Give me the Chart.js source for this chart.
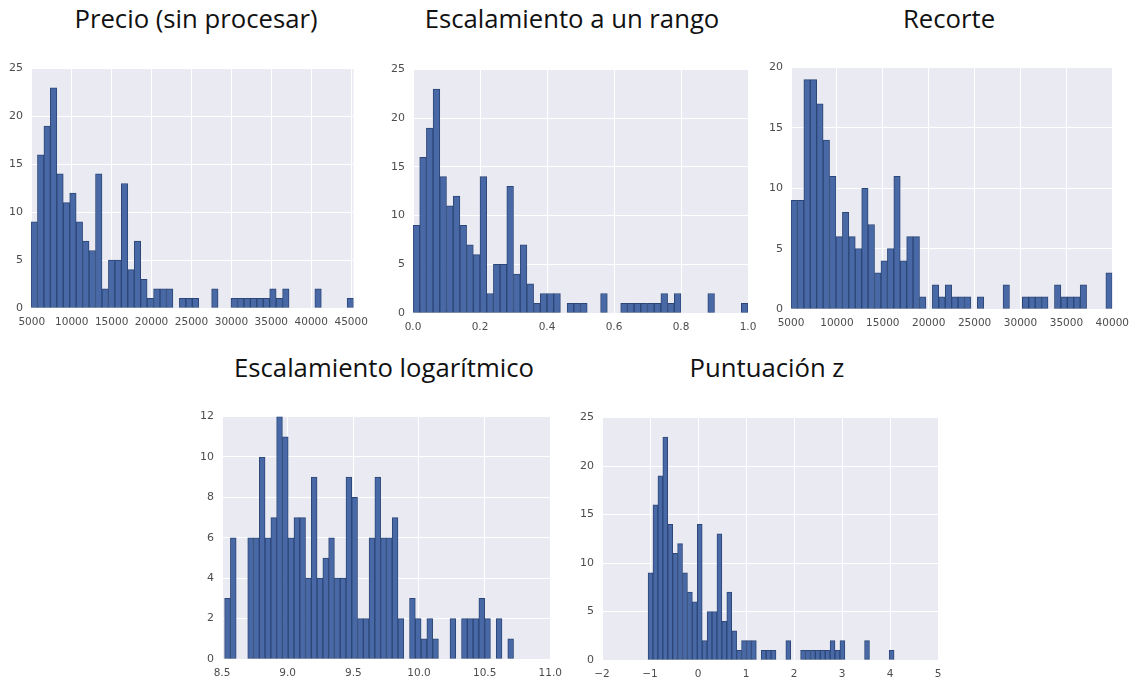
<!DOCTYPE html>
<html>
<head>
<meta charset="utf-8">
<script src="https://cdn.jsdelivr.net/npm/chart.js@4.4.1/dist/chart.umd.min.js"></script>
<style>
  html, body { margin: 0; padding: 0; background: #fff; }
  #page { position: relative; width: 1139px; height: 679px; overflow: hidden; }
  .title {
    position: absolute; width: 400px; text-align: center;
    font-family: "Open Sans", Lato, sans-serif; font-size: 25.7px; line-height: 30px;
    color: #111; white-space: nowrap;
  }
  .box { position: absolute; }
</style>
</head>
<body>
<div id="page">
  <div class="title" style="left:-4px;top:4px">Precio (sin procesar)</div>
  <div class="title" style="left:372px;top:4px">Escalamiento a un rango</div>
  <div class="title" style="left:749px;top:4px">Recorte</div>
  <div class="title" style="left:184px;top:353px">Escalamiento logarítmico</div>
  <div class="title" style="left:567px;top:353px">Puntuación z</div>

  <div class="box" style="left:1px;top:54px;width:375px;height:278px"><canvas id="c1"></canvas></div>
  <div class="box" style="left:383px;top:55px;width:383px;height:282px"><canvas id="c2"></canvas></div>
  <div class="box" style="left:761px;top:53px;width:376px;height:280px"><canvas id="c3"></canvas></div>
  <div class="box" style="left:192px;top:402px;width:378px;height:281px"><canvas id="c4"></canvas></div>
  <div class="box" style="left:572px;top:403px;width:384px;height:281px"><canvas id="c5"></canvas></div>
</div>

<script>
// histogram counts, 50 bins each
const countsPrecio = [9, 16, 19, 23, 14, 11, 12, 9, 7, 6, 14, 2, 5, 5, 13, 4, 7, 3, 1, 2,
  2, 2, 0, 1, 1, 1, 0, 0, 2, 0, 0, 1, 1, 1, 1, 1, 1, 2, 1, 2, 0, 0, 0, 0, 2, 0, 0, 0, 0, 1];
const countsRango = countsPrecio.slice();
const countsZ = countsPrecio.slice();
const countsRecorte = [9, 9, 19, 19, 17, 14, 11, 6, 8, 6, 5, 10, 7, 3, 4, 5, 11, 4, 6, 6,
  1, 0, 2, 1, 2, 1, 1, 1, 0, 1, 0, 0, 0, 2, 0, 0, 1, 1, 1, 1, 0, 2, 1, 1, 1, 2, 0, 0, 0, 3];
const countsLog = [3, 6, 0, 0, 6, 6, 10, 6, 7, 12, 11, 6, 7, 7, 4, 9, 4, 5, 6, 4,
  4, 9, 8, 2, 2, 6, 9, 6, 6, 7, 2, 0, 3, 2, 1, 2, 1, 0, 0, 2, 0, 2, 2, 2, 3, 2, 0, 2, 0, 1];

// bin edges: first edge and width
const binsPrecio = { start: 4900, width: 808 };
const binsRango = { start: 0, width: 0.02 };
const binsRecorte = { start: 5000, width: 700 };
const binsLog = { start: 8.52, width: 0.044 };
const binsZ = { start: -1.04, width: 0.1025 };

// tick values
const xTicksPrecio = [5000, 10000, 15000, 20000, 25000, 30000, 35000, 40000, 45000];
const xTicksRango = [0, 0.2, 0.4, 0.6, 0.8, 1.0];
const xTicksRecorte = [5000, 10000, 15000, 20000, 25000, 30000, 35000, 40000];
const xTicksLog = [8.5, 9.0, 9.5, 10.0, 10.5, 11.0];
const xTicksZ = [-2, -1, 0, 1, 2, 3, 4, 5];
const yTicks25 = [0, 5, 10, 15, 20, 25];
const yTicks20 = [0, 5, 10, 15, 20];
const yTicks12 = [0, 2, 4, 6, 8, 10, 12];

const PANEL_BG = '#eaeaf2';
const BAR_FILL = '#4869a6';
const BAR_EDGE = '#2c4677';
const X_FONT = { family: '"DejaVu Sans", sans-serif', size: 10.5 };
const Y_FONT = { family: '"DejaVu Sans", sans-serif', size: 11 };

const plotBg = {
  id: 'plotBg',
  beforeDraw(chart) {
    const { ctx, chartArea: a } = chart;
    ctx.save();
    ctx.fillStyle = PANEL_BG;
    ctx.fillRect(a.left, a.top, a.right - a.left, a.bottom - a.top);
    ctx.restore();
  },
};

function fixedTicks(values) {
  return (scale) => { scale.ticks = values.map((v) => ({ value: v })); };
}

function makeHist(id, counts, bins, xr, xTicks, yTicks, fmt) {
  const data = counts.map((c, i) => ({ x: bins.start + bins.width * (i + 0.5), y: c }));
  return new Chart(document.getElementById(id), {
    type: 'bar',
    data: {
      datasets: [{
        data,
        backgroundColor: BAR_FILL,
        borderColor: BAR_EDGE,
        borderWidth: 1,
        borderSkipped: false,
        barPercentage: 1,
        categoryPercentage: 1,
      }],
    },
    options: {
      responsive: true,
      maintainAspectRatio: false,
      animation: false,
      layout: { padding: { top: 8, right: 18, left: 0, bottom: 0 } },
      plugins: { legend: { display: false }, tooltip: { enabled: false } },
      scales: {
        x: {
          type: 'linear',
          offset: false,
          min: xr[0],
          max: xr[1],
          afterBuildTicks: fixedTicks(xTicks),
          afterFit: (s) => { s.height = 24; },
          grid: { color: '#ffffff', lineWidth: 1, drawTicks: false, offset: false },
          border: { display: false },
          ticks: { autoSkip: false, maxRotation: 0, padding: 8, color: '#4d4d4d', font: X_FONT, callback: fmt },
        },
        y: {
          min: 0,
          max: yTicks[yTicks.length - 1],
          afterBuildTicks: fixedTicks(yTicks),
          afterFit: (s) => { s.width = 30; },
          grid: { color: '#ffffff', lineWidth: 1, drawTicks: false },
          border: { display: false },
          ticks: { padding: 8, color: '#4d4d4d', font: Y_FONT, callback: (v) => String(v) },
        },
      },
    },
    plugins: [plotBg],
  });
}

const plain = (v) => String(v);
const oneDec = (v) => Number(v).toFixed(1);
const minus = (v) => String(v).replace('-', '\u2212');

makeHist('c1', countsPrecio, binsPrecio, [4900, 45300], xTicksPrecio, yTicks25, plain);
makeHist('c2', countsRango, binsRango, [0, 1], xTicksRango, yTicks25, oneDec);
makeHist('c3', countsRecorte, binsRecorte, [5000, 40000], xTicksRecorte, yTicks20, plain);
makeHist('c4', countsLog, binsLog, [8.5, 11.0], xTicksLog, yTicks12, oneDec);
makeHist('c5', countsZ, binsZ, [-2, 5], xTicksZ, yTicks25, minus);
</script>
</body>
</html>
